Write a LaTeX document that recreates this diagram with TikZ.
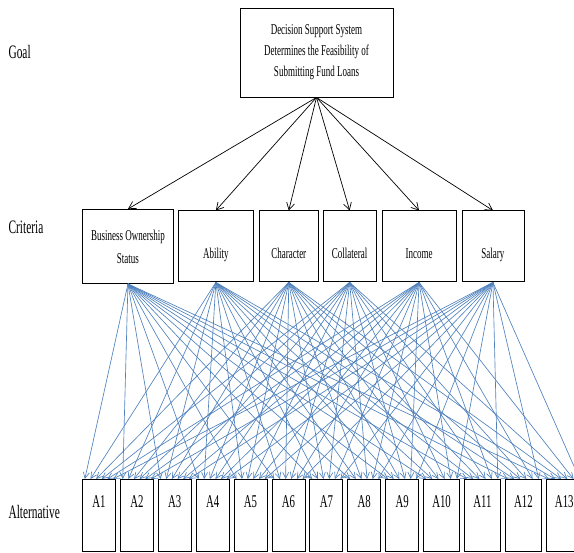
\documentclass[tikz,border=0pt]{standalone}
\usepackage{fontspec}
\setmainfont{Liberation Serif}[FakeStretch=0.6]
\usetikzlibrary{positioning,calc,arrows.meta}
\definecolor{linkblue}{RGB}{79,129,189}

\begin{document}
\begin{tikzpicture}[x=1pt, y=-1pt,
        box/.style={draw, line width=0.9pt, inner sep=3pt, align=center},
        crit/.style={box, minimum height=71pt, font=\fontsize{15}{23}\selectfont},
        one/.style={text height=45pt, text depth=20pt},
        alt/.style={box, inner ysep=4pt, text height=24pt, text depth=40pt,
          font=\fontsize{18}{20}\selectfont},
        side/.style={anchor=west, font=\fontsize{19}{22}\selectfont},
        down/.style={-{Straight Barb[length=7pt,width=8pt]}, line width=0.7pt},
        link/.style={-{Straight Barb[length=6pt,width=6pt]}, linkblue, line width=0.65pt}
        ]
        \useasboundingbox (0,0) rectangle (574,553);
        % levels
        \node[side] (lgoal) at (5,52) {Goal};
        \node[side] (lcrit) at (5,227) {Criteria};
        \node[side] (lalt) at (5,512) {Alternative};
        % goal
        \node[box, minimum width=153pt, minimum height=89pt,
          font=\fontsize{15}{21}\selectfont] (goal) at (316.5,52.5)
          {Decision Support System\\Determines the Feasibility of\\Submitting Fund Loans};
        % criteria
        \node[crit, minimum width=91pt, minimum height=74pt, anchor=north west] (bos) at (82,209)
          {Business Ownership\\Status};
        \node[crit, one, minimum width=75pt, right=4pt of bos] (abi) {Ability};
        \node[crit, one, minimum width=59pt, right=5pt of abi] (cha) {Character};
        \node[crit, one, minimum width=53pt, right=4pt of cha] (col) {Collateral};
        \node[crit, one, minimum width=74pt, right=5pt of col] (inc) {Income};
        \node[crit, one, minimum width=62pt, right=5pt of inc] (sal) {Salary};
        % alternatives
        \node[alt, minimum width=33pt, anchor=north west] (A1) at (82,479) {A1};
        \foreach \i/\w [remember=\i as \j (initially 1)] in
          {2/33,3/33,4/33,5/33,6/33,7/33,8/33,9/33,10/36,11/36,12/36,13/36}
          \node[alt, minimum width=\w pt, right=4pt of A\j] (A\i) {A\i};
        % arrows
        \foreach \c in {bos,abi,cha,col,inc,sal}
          \draw[down] (goal.south) -- (\c.north);
        \foreach \c [count=\k] in {bos,abi,cha,col,inc,sal}
          \foreach \i in {1,...,13}
            \draw[link] (\c.south) -- ($(A\i.north west)!{(\k-0.5)/6}!(A\i.north east)$);
      \end{tikzpicture}
\end{document}
